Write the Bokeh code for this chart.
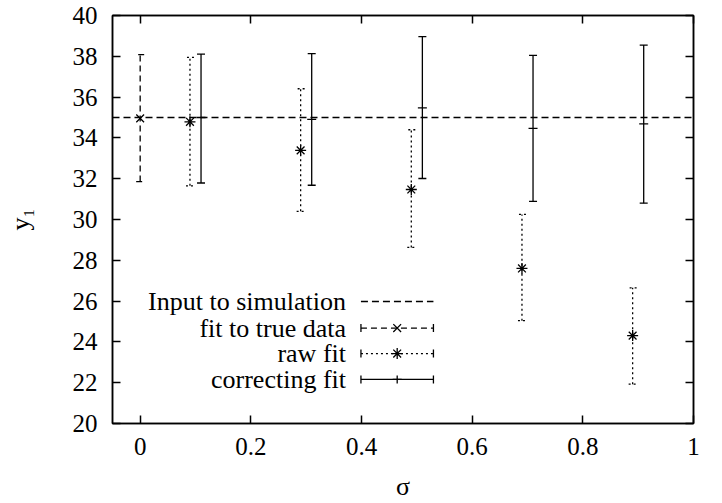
import math
from bokeh.plotting import figure
from bokeh.models import (Range1d, LinearAxis, FixedTicker, Whisker, TeeHead, ColumnDataSource,
                          Span, CustomJSTickFormatter)
from bokeh.core.properties import value
from bokeh.embed import file_html
from bokeh.resources import INLINE

# ---------------- data ----------------
input_value = 35.0

sigma_true = [0.0]
true_y = [34.96]
true_lo = [31.86]
true_hi = [38.08]

sigma_raw = [0.09, 0.29, 0.49, 0.69, 0.89]
raw_y = [34.79, 33.39, 31.47, 27.60, 24.31]
raw_lo = [31.65, 30.40, 28.63, 25.04, 21.93]
raw_hi = [37.95, 36.41, 34.40, 30.25, 26.65]

sigma_corr = [0.11, 0.31, 0.51, 0.71, 0.91]
corr_y = [35.00, 34.91, 35.47, 34.47, 34.69]
corr_lo = [31.79, 31.68, 32.01, 30.89, 30.80]
corr_hi = [38.11, 38.13, 38.96, 38.05, 38.55]

xticks = [0, 0.2, 0.4, 0.6, 0.8, 1]
xtick_labels = ["0", "0.2", "0.4", "0.6", "0.8", "1"]
yticks = [20, 22, 24, 26, 28, 30, 32, 34, 36, 38, 40]

legend_labels = ["Input to simulation", "fit to true data", "raw fit", "correcting fit"]

# ---------------- styling / layout ----------------
FONT = "'Liberation Serif', 'Times New Roman', serif"
FS = "26px"
TFS = "25px"
LW = 1.3
DASH_TRUE = "6 4"
DASH_RAW = "2 3"
DASH_INPUT = "7 4"

p = figure(width=722, height=503, x_range=Range1d(-0.05, 1), y_range=Range1d(20, 40),
           output_backend="svg", toolbar_location=None,
           min_border_left=112, min_border_right=29, min_border_top=15, min_border_bottom=80)
p.background_fill_color = "white"
p.border_fill_color = "white"
p.xgrid.grid_line_color = None
p.ygrid.grid_line_color = None
p.outline_line_color = "black"
p.outline_line_width = 1.5


def style_axis(ax, ticks, show_labels):
    ax.ticker = FixedTicker(ticks=ticks)
    ax.major_tick_in = 8
    ax.major_tick_out = 0
    ax.minor_tick_line_color = None
    ax.major_tick_line_color = "black"
    ax.major_tick_line_width = 1.5
    ax.axis_line_color = "black"
    ax.axis_line_width = 1.5
    ax.major_label_text_font = FONT
    ax.major_label_text_color = "black"
    ax.major_label_text_font_size = TFS
    if not show_labels:
        ax.formatter = CustomJSTickFormatter(code="return ''")
        ax.major_label_standoff = 0


xa = p.xaxis[0]
style_axis(xa, xticks, True)
xa.major_label_overrides = {t: l for t, l in zip(xticks, xtick_labels)}
xa.major_label_standoff = 14
xa.axis_label = "σ"
xa.axis_label_text_font = FONT
xa.axis_label_text_font_size = FS
xa.axis_label_text_font_style = "normal"
xa.axis_label_text_color = "black"
xa.axis_label_standoff = 14

ya = p.yaxis[0]
style_axis(ya, yticks, True)
ya.major_label_standoff = 15
ya.axis_label = "y₁"
ya.axis_label_text_font = FONT
ya.axis_label_text_font_size = FS
ya.axis_label_text_font_style = "normal"
ya.axis_label_text_color = "black"
ya.axis_label_standoff = 35

top = LinearAxis()
style_axis(top, xticks, False)
p.add_layout(top, "above")
right = LinearAxis()
style_axis(right, yticks, False)
p.add_layout(right, "right")

# input line
p.add_layout(Span(location=input_value, dimension="width", line_color="black",
                  line_width=LW, line_dash=DASH_INPUT))

# error bars
def errbars(xs, lo, hi, dash):
    src = ColumnDataSource(dict(x=xs, lo=lo, hi=hi))
    w = Whisker(base="x", lower="lo", upper="hi", source=src, dimension="height",
                line_color="black", line_width=LW, line_dash=dash,
                upper_head=TeeHead(size=8, line_color="black", line_width=LW, line_dash=dash),
                lower_head=TeeHead(size=8, line_color="black", line_width=LW, line_dash=dash))
    p.add_layout(w)

errbars(sigma_true, true_lo, true_hi, DASH_TRUE)
errbars(sigma_raw, raw_lo, raw_hi, DASH_RAW)
errbars(sigma_corr, corr_lo, corr_hi, "solid")

p.scatter(sigma_true, true_y, marker="x", size=11, line_color="black", line_width=LW)
p.scatter(sigma_raw, raw_y, marker="asterisk", size=11, line_color="black", line_width=LW)
p.scatter(sigma_corr, corr_y, marker="dash", size=9, line_color="black", line_width=LW)

# manual gnuplot-style legend (layout constants)
LEG_TEXT_X = 0.372
LEG_X0 = 0.399
LEG_X1 = 0.530
LEG_ROWS = [25.98, 24.68, 23.43, 22.16]
LEG_XM = (LEG_X0 + LEG_X1) / 2

p.text(x=[LEG_TEXT_X] * 4, y=LEG_ROWS, text=legend_labels, text_align="right",
       text_baseline="middle", text_font=value(FONT), text_font_size=FS, text_color="black")

dashes = [DASH_INPUT, DASH_TRUE, DASH_RAW, "solid"]
markers = [None, "x", "asterisk", "dash"]
for i, (yy, d, m) in enumerate(zip(LEG_ROWS, dashes, markers)):
    p.line([LEG_X0, LEG_X1], [yy, yy], line_color="black", line_width=LW, line_dash=d)
    if i > 0:
        p.scatter([LEG_X0, LEG_X1], [yy, yy], marker="dash", angle=math.pi / 2, size=8,
                  line_color="black", line_width=LW)
        p.scatter([LEG_XM], [yy], marker=m, size=11 if m != "dash" else 9,
                  line_color="black", line_width=LW)
        if m == "dash":
            p.scatter([LEG_XM], [yy], marker="dash", angle=math.pi / 2, size=8,
                      line_color="black", line_width=LW)

open("out.html", "w").write(file_html(p, INLINE))
